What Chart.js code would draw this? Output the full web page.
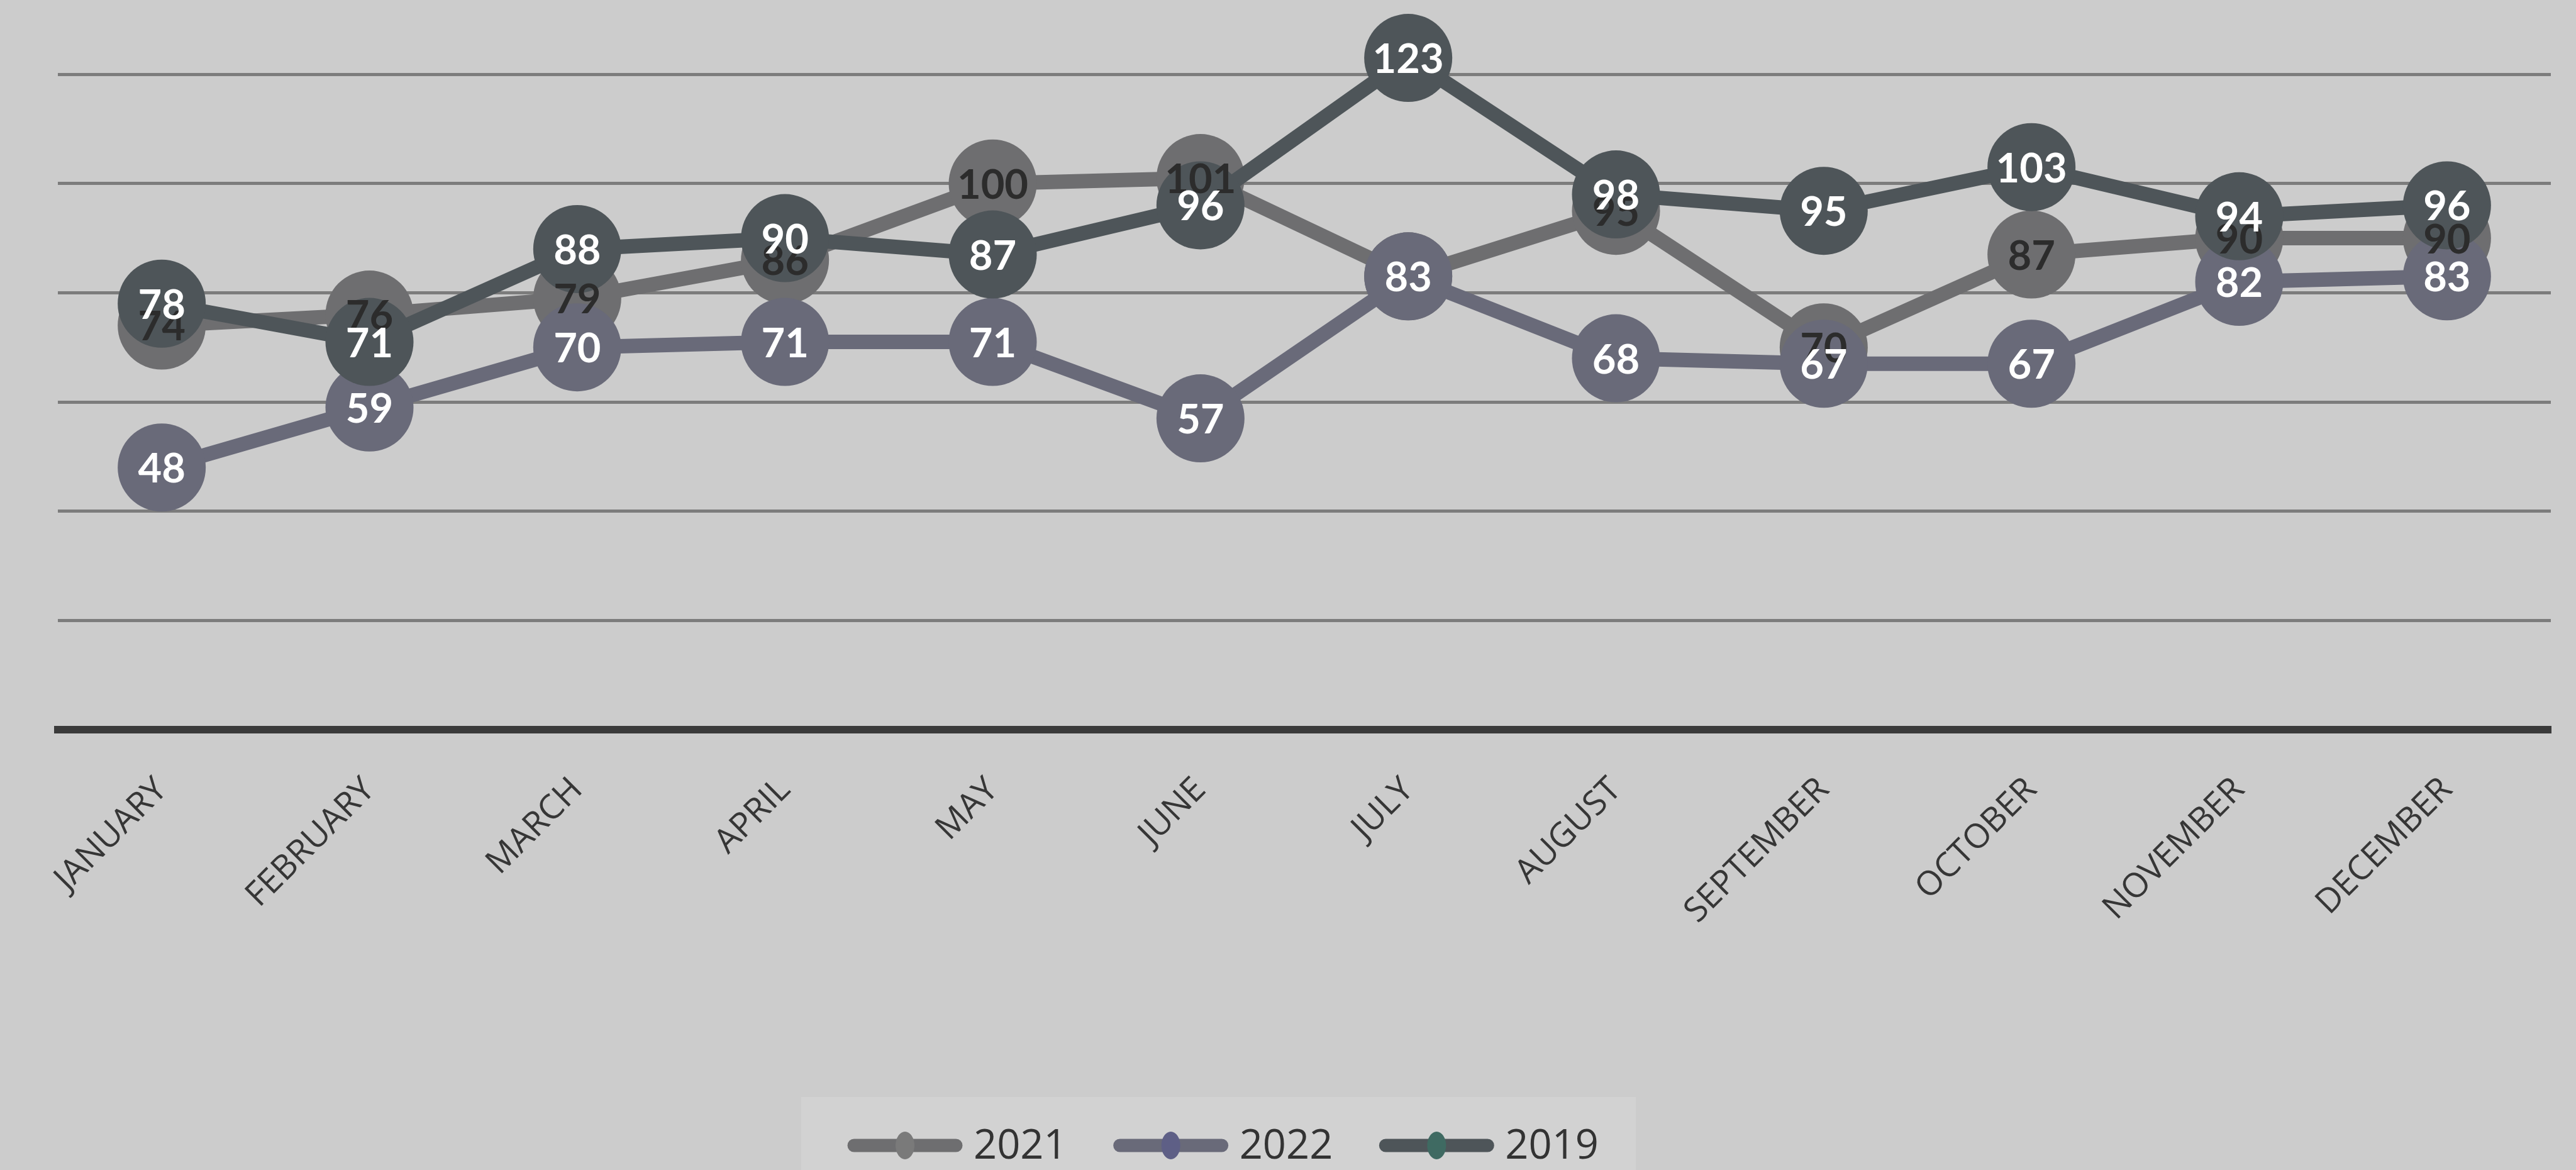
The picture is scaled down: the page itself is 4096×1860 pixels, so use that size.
<!DOCTYPE html>
<html>
<head>
<meta charset="utf-8">
<script src="https://cdn.jsdelivr.net/npm/chart.js@4.4.1/dist/chart.umd.min.js"></script>
<style>
  html, body { margin: 0; padding: 0; background: #cccccc; }
  #wrap { width: 4096px; height: 1860px; }
</style>
</head>
<body>
<div id="wrap"><canvas id="myChart" width="4096" height="1860"></canvas></div>
<script>
  // data block
  const months = ['JANUARY', 'FEBRUARY', 'MARCH', 'APRIL', 'MAY', 'JUNE',
    'JULY', 'AUGUST', 'SEPTEMBER', 'OCTOBER', 'NOVEMBER', 'DECEMBER'];
  const values2021 = [74, 76, 79, 86, 100, 101, 83, 95, 70, 87, 90, 90];
  const values2022 = [48, 59, 70, 71, 71, 57, 83, 68, 67, 67, 82, 83];
  const values2019 = [78, 71, 88, 90, 87, 96, 123, 98, 95, 103, 94, 96];
  const seriesNames = ['2021', '2022', '2019'];
  const gridValues = [0, 20, 40, 60, 80, 100, 120];

  // style block
  const lineColors = ['#6e6e70', '#696a79', '#4e5559'];
  const labelColors = ['#2c2c2c', '#ffffff', '#ffffff'];
  const legendDots = ['#7a7a7a', '#5e5f86', '#3f6a62'];

  function makeSet(i, values) {
    return {
      label: seriesNames[i],
      data: values,
      borderColor: lineColors[i],
      backgroundColor: lineColors[i],
      pointBackgroundColor: lineColors[i],
      pointBorderColor: lineColors[i],
      pointBorderWidth: 0,
      pointRadius: 70,
      pointHoverRadius: 70,
      borderWidth: 23,
      tension: 0,
      clip: false,
      order: 3 - i
    };
  }

  const data = {
    labels: months,
    datasets: [
      makeSet(0, values2021),
      makeSet(1, values2022),
      makeSet(2, values2019)
    ]
  };

  // value labels drawn on the markers, later series on top
  const valueLabels = {
    id: 'valueLabels',
    afterDatasetsDraw(chart) {
      const ctx = chart.ctx;
      ctx.save();
      ctx.font = 'bold 65px Lato';
      ctx.textAlign = 'center';
      ctx.textBaseline = 'middle';
      chart.data.datasets.forEach(function(ds, i) {
        const meta = chart.getDatasetMeta(i);
        ctx.fillStyle = labelColors[i];
        meta.data.forEach(function(pt, j) {
          ctx.fillText(String(ds.data[j]), pt.x, pt.y + 3);
        });
      });
      ctx.restore();
    }
  };

  // legend under the axis labels
  const bottomLegend = {
    id: 'bottomLegend',
    afterDraw(chart) {
      const ctx = chart.ctx;
      const y = 1821;
      const markLen = 182, gapText = 18, gapItem = 74;
      ctx.save();
      ctx.fillStyle = 'rgba(255,255,255,0.13)';
      ctx.fillRect(1274, 1744, 1327, 116);
      ctx.font = '65px "Open Sans"';
      ctx.textBaseline = 'middle';
      ctx.textAlign = 'left';
      const widths = chart.data.datasets.map(ds => ctx.measureText(ds.label).width);
      let total = 0;
      widths.forEach((w, i) => { total += markLen + gapText + w + (i < widths.length - 1 ? gapItem : 0); });
      let x = 1945 - total / 2;
      chart.data.datasets.forEach(function(ds, i) {
        ctx.strokeStyle = lineColors[i];
        ctx.lineWidth = 21;
        ctx.lineCap = 'round';
        ctx.beginPath();
        ctx.moveTo(x + 10, y);
        ctx.lineTo(x + markLen - 10, y);
        ctx.stroke();
        ctx.fillStyle = legendDots[i];
        ctx.beginPath();
        ctx.ellipse(x + markLen / 2, y, 15, 22, 0, 0, Math.PI * 2);
        ctx.fill();
        ctx.fillStyle = '#333333';
        ctx.fillText(ds.label, x + markLen + gapText, y + 2);
        x += markLen + gapText + widths[i] + gapItem;
      });
      ctx.restore();
    }
  };

  const config = {
    type: 'line',
    data: data,
    plugins: [valueLabels, bottomLegend],
    options: {
      responsive: false,
      animation: false,
      events: [],
      layout: { autoPadding: false, padding: { left: 92, right: 40, top: 0, bottom: 0 } },
      plugins: {
        legend: { display: false },
        tooltip: { enabled: false }
      },
      scales: {
        x: {
          offset: true,
          grid: { display: false, drawTicks: false },
          border: { display: true, color: '#3a3a3a', width: 12 },
          ticks: {
            autoSkip: false,
            maxRotation: 45,
            minRotation: 45,
            padding: 64,
            color: '#363636',
            font: { family: 'Open Sans', size: 54 }
          },
          afterFit: function(scale) { scale.height = 700; }
        },
        y: {
          min: 0,
          max: 133.6,
          afterBuildTicks: function(scale) {
            scale.ticks = gridValues.map(v => ({ value: v }));
          },
          ticks: { display: false },
          border: { display: false },
          grid: {
            drawTicks: false,
            lineWidth: 5,
            color: c => (c.tick && c.tick.value === 0) ? 'rgba(0,0,0,0)' : '#7c7c7c'
          }
        }
      }
    }
  };

  Promise.all([
    document.fonts.load('bold 65px Lato'),
    document.fonts.load('54px "Open Sans"')
  ]).catch(() => null).then(() => {
    const myChart = new Chart(document.getElementById('myChart'), config);
  });
</script>
</body>
</html>
